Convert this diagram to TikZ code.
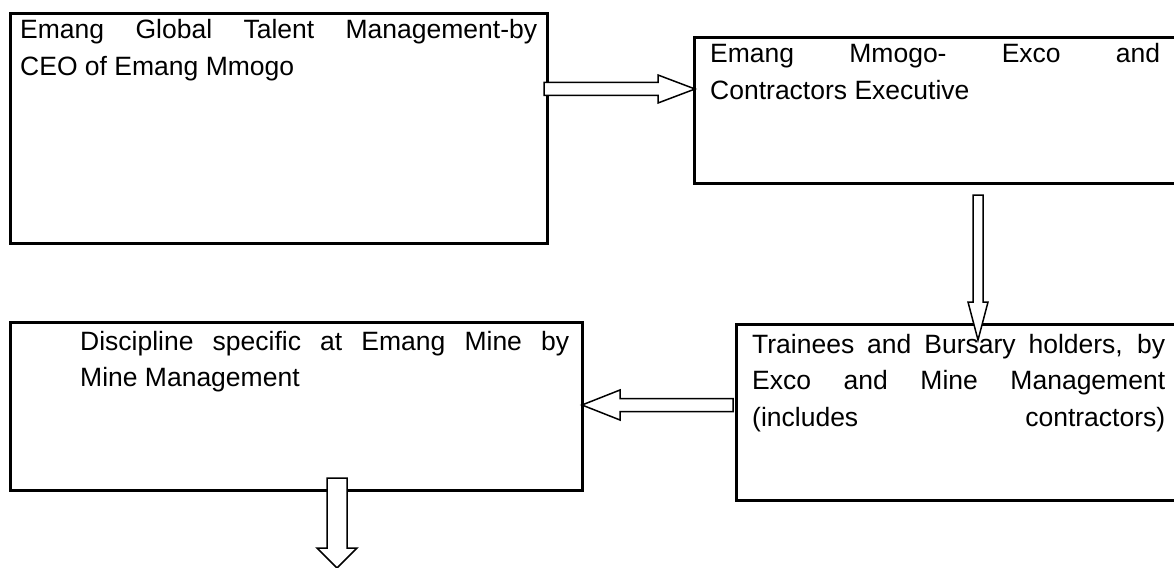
\documentclass[tikz,border=0pt]{standalone}
\usepackage{fontspec}
\setmainfont{Liberation Sans}
\usetikzlibrary{calc}

\tikzset{
  stage/.style={draw, line width=3pt, outer sep=0pt, inner sep=0pt, anchor=north west},
  stagetext/.style={anchor=base west, inner sep=0pt, align=justify,
    font=\fontsize{26.5}{36.5}\selectfont},
  hollowarrow/.style={draw, line width=1.5pt, fill=white, line join=miter},
}
% block arrow from #1 to #2: shaft half width #3, head half width #4, head length #5
\newcommand\flowarrow[5]{%
  \draw[hollowarrow] let \p1=(#1), \p2=(#2),
      \n1={atan2(\y2-\y1,\x2-\x1)}, \n2={veclen(\x2-\x1,\y2-\y1)} in
    [shift={(\p1)}, rotate=\n1]
    (0,-#3) -- (\n2-#5,-#3) -- (\n2-#5,-#4) -- (\n2,0)
    -- (\n2-#5,#4) -- (\n2-#5,#3) -- (0,#3) -- cycle;}

\begin{document}
\begin{tikzpicture}[x=1pt,y=1pt]
  \useasboundingbox (0,0) rectangle (1174,-567);
  \clip (0,0) rectangle (1174,-567);

  % boxes
  \node[stage, minimum width=537pt, minimum height=229pt] (ceo) at (10,-14) {};
  \node[stage, minimum width=600pt, minimum height=145pt] (exco) at (694,-38) {};
  \node[stage, minimum width=600pt, minimum height=176pt] (bursary) at (736,-324) {};
  \node[stage, minimum width=572pt, minimum height=168pt] (mine) at (10,-322) {};

  % arrow ends
  \coordinate (ceo out) at ($(ceo.north east)+(-3,-75)$);
  \coordinate (exco in) at ($(exco.north west)+(1,-51)$);
  \coordinate (exco out) at ($(exco.south west)+(284,-12)$);
  \coordinate (bursary in) at ($(bursary.north west)+(242,-16)$);
  \coordinate (bursary out) at ($(bursary.north west)+(-3,-81)$);
  \coordinate (mine in) at ($(mine.north east)+(0,-83)$);
  \coordinate (mine out) at ($(mine.south west)+(327,12)$);
  \coordinate (next) at ($(mine.south west)+(327,-78)$);

  \flowarrow{ceo out}{exco in}{6.5}{14}{37}
  \flowarrow{exco out}{bursary in}{5}{10}{38}
  \flowarrow{bursary out}{mine in}{6.5}{15}{38}
  \flowarrow{mine out}{next}{10}{20}{20}

  % texts
  \node[stagetext, text width=517pt] (ceo text) at ($(ceo.north west)+(10,-25)$)
    {Emang Global Talent \mbox{Management-by}\linebreak CEO of Emang Mmogo};
  \node[stagetext, text width=450pt] (exco text) at ($(exco.north west)+(16,-25)$)
    {Emang Mmogo- Exco and\linebreak Contractors Executive};
  \node[stagetext, text width=413pt] (bursary text) at ($(bursary.north west)+(16,-29)$)
    {Trainees and Bursary holders, by\linebreak Exco and Mine Management\linebreak
     \makebox[\linewidth][s]{(includes contractors)}};
  \node[stagetext, text width=489pt] (mine text) at ($(mine.north west)+(70,-28)$)
    {Discipline specific at Emang Mine by\linebreak Mine Management};
\end{tikzpicture}
\end{document}
